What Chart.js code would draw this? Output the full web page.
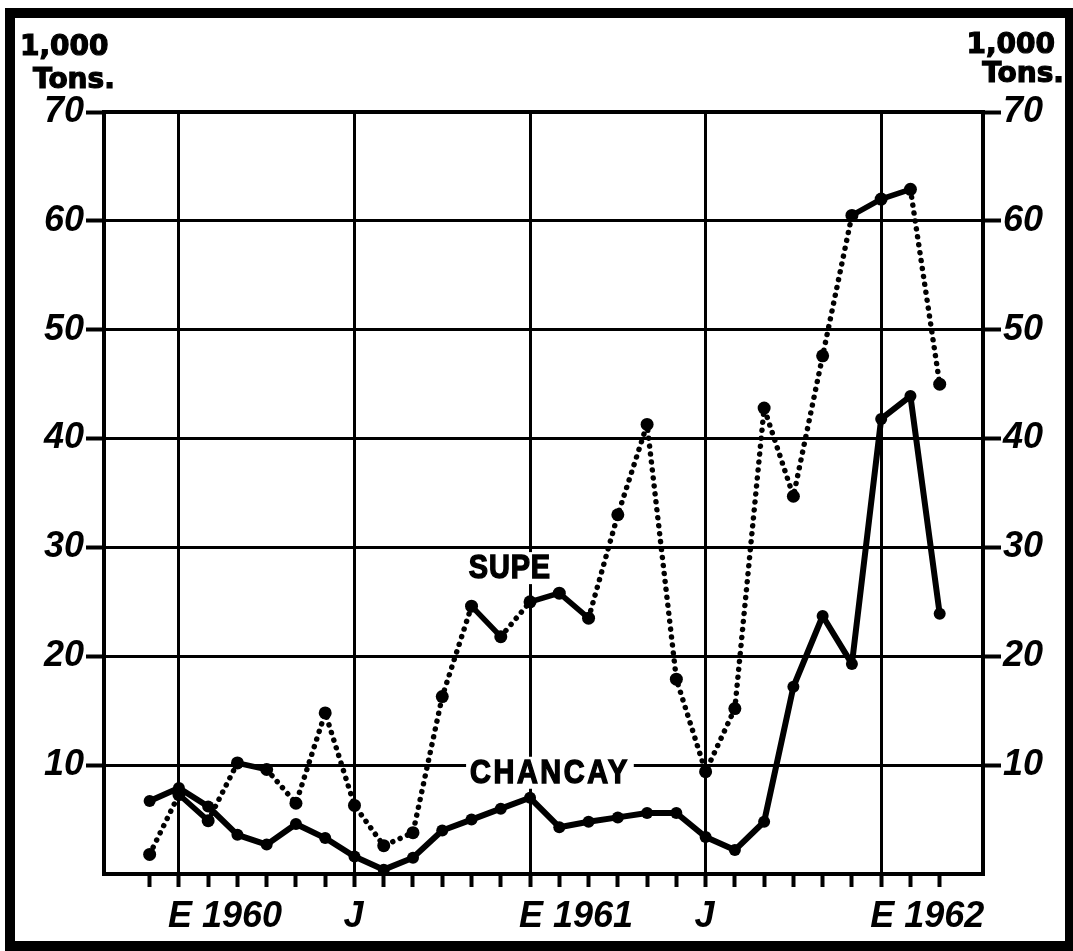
<!DOCTYPE html>
<html>
<head>
<meta charset="utf-8">
<script src="https://cdn.jsdelivr.net/npm/chart.js@4.4.1/dist/chart.umd.min.js"></script>
<style>
  html, body { margin: 0; padding: 0; background: #fff; }
  #wrap { position: relative; width: 1073px; height: 951px; }
</style>
</head>
<body>
<div id="wrap"><canvas id="chart"></canvas></div>
<script>
// Meses de Dic 1959 a Mar 1962 (E = enero, J = julio)
const meses = [
  'Dic 1959',
  'Ene 1960', 'Feb 1960', 'Mar 1960', 'Abr 1960', 'May 1960', 'Jun 1960',
  'Jul 1960', 'Ago 1960', 'Sep 1960', 'Oct 1960', 'Nov 1960', 'Dic 1960',
  'Ene 1961', 'Feb 1961', 'Mar 1961', 'Abr 1961', 'May 1961', 'Jun 1961',
  'Jul 1961', 'Ago 1961', 'Sep 1961', 'Oct 1961', 'Nov 1961', 'Dic 1961',
  'Ene 1962', 'Feb 1962', 'Mar 1962'
];
const etiquetasX = [
  '',
  'E 1960', '', '', '', '', '',
  'J', '', '', '', '', '',
  'E 1961', '', '', '', '', '',
  'J', '', '', '', '', '',
  'E 1962', '', ''
];
// miles de toneladas
const supe = [
  1.8,
  7.3, 4.9, 10.2, 9.6, 6.5, 14.8,
  6.3, 2.6, 3.8, 16.3, 24.6, 21.8,
  25.0, 25.8, 23.5, 33.0, 41.3, 17.9,
  9.4, 15.2, 42.8, 34.7, 47.6, 60.5,
  62.0, 62.9, 45.0
];
const chancay = [
  6.7,
  7.9, 6.2, 3.6, 2.7, 4.6, 3.3,
  1.6, 0.4, 1.5, 4.0, 5.0, 6.0,
  7.0, 4.3, 4.8, 5.2, 5.6, 5.6,
  3.4, 2.2, 4.8, 17.2, 23.7, 19.3,
  41.8, 43.9, 23.9
];
const marcasY = [0, 10, 20, 30, 40, 50, 60, 70];
// tramos de SUPE que el original dibuja con linea continua (indice del punto inicial)
const tramosContinuosSupe = [1, 3, 11, 13, 14, 24, 25];
// rotulos de las series, en coordenadas de datos
const rotulos = [
  { texto: 'SUPE', x: 12.31, y: 28.1, espacio: 1 },
  { texto: 'CHANCAY', x: 13.68, y: 9.3, espacio: 3 }
];

const fuenteNum = { family: '"Liberation Sans", Arial, sans-serif', size: 36, style: 'italic', weight: 'bold' };
const punteado = [0.01, 8];

const marco = {
  id: 'marco',
  beforeDraw(chart) {
    const c = chart.ctx;
    c.save();
    c.fillStyle = '#fff';
    c.fillRect(0, 0, chart.width, chart.height);
    c.strokeStyle = '#000';
    c.lineWidth = 10;
    c.strokeRect(10, 13, 1060, 933);
    c.fillStyle = '#000';
    c.lineWidth = 1.2;
    c.font = 'bold 28px "DejaVu Sans", sans-serif';
    c.textBaseline = 'alphabetic';
    c.textAlign = 'left';
    c.fillText('1,000', 20, 55);
    c.strokeText('1,000', 20, 55);
    c.fillText('Tons.', 33, 88);
    c.strokeText('Tons.', 33, 88);
    c.textAlign = 'right';
    c.fillText('1,000', 1055, 53);
    c.strokeText('1,000', 1055, 53);
    c.fillText('Tons.', 1064, 82);
    c.strokeText('Tons.', 1064, 82);
    c.restore();
  },
  beforeDatasetsDraw(chart) {
    const { ctx: c, chartArea: a, scales } = chart;
    c.save();
    c.strokeStyle = '#000';
    c.lineWidth = 4;
    c.strokeRect(a.left, a.top, a.right - a.left, a.bottom - a.top);
    c.font = 'bold 34px "Liberation Sans", Arial, sans-serif';
    c.textAlign = 'center';
    c.textBaseline = 'middle';
    c.lineWidth = 1.5;
    rotulos.forEach(r => {
      const x = scales.x.getPixelForValue(r.x);
      const y = scales.y.getPixelForValue(r.y);
      c.letterSpacing = r.espacio + 'px';
      const w = c.measureText(r.texto).width * 0.85;
      c.fillStyle = '#fff';
      c.fillRect(x - w / 2 - 4, y - 16, w + 8, 32);
      c.fillStyle = '#000';
      c.save();
      c.translate(x, y + 1);
      c.scale(0.85, 1);
      c.fillText(r.texto, 0, 0);
      c.strokeText(r.texto, 0, 0);
      c.restore();
    });
    c.restore();
  }
};

const ejeY = (pos, ancho) => ({
  position: pos,
  min: 0,
  max: 70,
  afterBuildTicks: s => { s.ticks = marcasY.map(v => ({ value: v })); },
  afterFit: s => { s.width = ancho; },
  grid: {
    drawOnChartArea: pos === 'left',
    color: ctx => (ctx.tick && ctx.tick.value === 0) ? 'rgba(0,0,0,0)' : '#000',
    tickColor: ctx => (ctx.tick && ctx.tick.value === 0) ? 'rgba(0,0,0,0)' : '#000',
    lineWidth: 3,
    tickWidth: 4,
    tickLength: 18
  },
  border: { display: true, color: '#000', width: 4 },
  ticks: {
    color: '#000',
    padding: 2,
    font: fuenteNum,
    callback: v => v === 0 ? '' : v
  }
});

new Chart(document.getElementById('chart'), {
  type: 'line',
  data: {
    datasets: [
      {
        label: 'SUPE',
        data: meses.map((m, i) => ({ x: i, y: supe[i] })),
        borderColor: '#000',
        backgroundColor: '#000',
        borderWidth: 5.5,
        borderCapStyle: 'round',
        borderDash: punteado,
        pointRadius: 6.5,
        pointBorderWidth: 0,
        pointBackgroundColor: '#000',
        segment: {
          borderDash: ctx => tramosContinuosSupe.includes(ctx.p0DataIndex) ? [] : punteado
        }
      },
      {
        label: 'CHANCAY',
        data: meses.map((m, i) => ({ x: i, y: chancay[i] })),
        borderColor: '#000',
        backgroundColor: '#000',
        borderWidth: 6,
        borderJoinStyle: 'round',
        pointRadius: 6,
        pointBorderWidth: 0,
        pointBackgroundColor: '#000'
      }
    ]
  },
  options: {
    responsive: true,
    maintainAspectRatio: false,
    animation: false,
    devicePixelRatio: 1,
    layout: { padding: { top: 112, left: 0, right: 0, bottom: 0 } },
    plugins: { legend: { display: false }, tooltip: { enabled: false } },
    scales: {
      x: {
        type: 'linear',
        min: -1.56,
        max: 28.48,
        afterBuildTicks: s => { s.ticks = meses.map((m, i) => ({ value: i })); },
        afterFit: s => { s.height = 77; },
        grid: {
          color: ctx => (ctx.tick && etiquetasX[ctx.index]) ? '#000' : 'rgba(0,0,0,0)',
          tickColor: '#000',
          lineWidth: 3,
          tickWidth: 4,
          tickLength: 13
        },
        border: { display: true, color: '#000', width: 4 },
        ticks: {
          autoSkip: false,
          maxRotation: 0,
          align: 'start',
          labelOffset: -11,
          padding: 8,
          color: '#000',
          font: fuenteNum,
          callback: (v, i) => etiquetasX[i]
        }
      },
      y: ejeY('left', 104),
      y2: ejeY('right', 90)
    }
  },
  plugins: [marco]
});
</script>
</body>
</html>
